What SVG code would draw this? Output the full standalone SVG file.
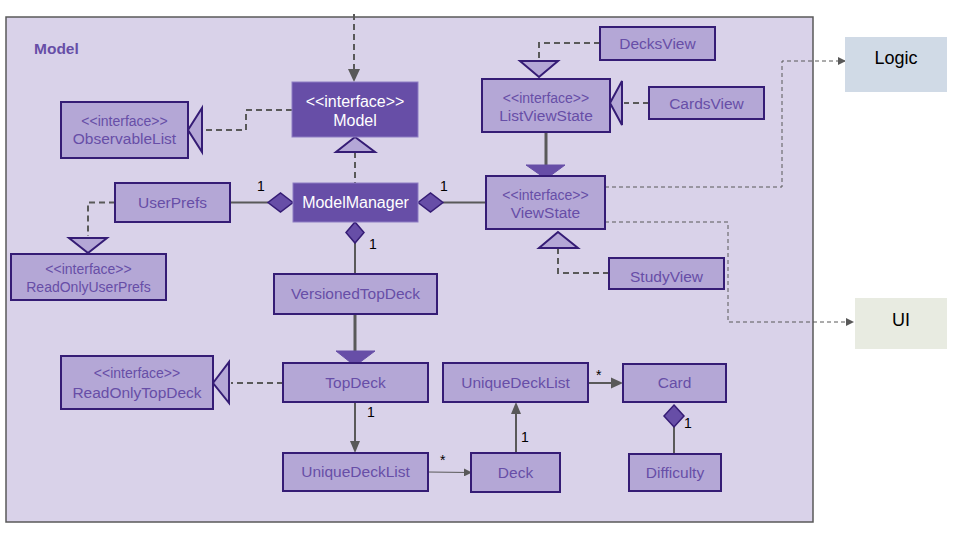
<svg xmlns="http://www.w3.org/2000/svg" width="960" height="540" viewBox="0 0 960 540">
<defs>
<style>
.frame{fill:#d9d2e9;stroke:#595959;stroke-width:1.5}
.cls{fill:#b4a7d6;stroke:#351c75;stroke-width:2}
.dark{fill:#674ea7;stroke:#8e7cc3;stroke-width:1}
.t{font-family:"Liberation Sans",Arial,sans-serif;fill:#674ea7;text-anchor:middle}
.n{font-size:15.5px}
.s{font-size:14px}
.w{font-family:"Liberation Sans",Arial,sans-serif;fill:#ffffff;text-anchor:middle;font-size:16px}
.m{font-family:"Liberation Sans",Arial,sans-serif;fill:#000000;font-size:14px}
.dash{fill:none;stroke:#595959;stroke-width:2;stroke-dasharray:6,4}
.solid{fill:none;stroke:#595959;stroke-width:2}
.thick{fill:none;stroke:#595959;stroke-width:3}
.thin{fill:none;stroke:#595959;stroke-width:1}
.thindash{fill:none;stroke:#595959;stroke-width:1;stroke-dasharray:4,3}
.tri{fill:#b4a7d6;stroke:#351c75;stroke-width:2;stroke-linejoin:miter}
.ftri{fill:#674ea7;stroke:#674ea7;stroke-width:1}
.dia{fill:#674ea7;stroke:#351c75;stroke-width:1.5}
.ah{fill:#595959}
</style>
<marker id="ahS" markerWidth="8" markerHeight="8" refX="7" refY="4" orient="auto" markerUnits="userSpaceOnUse">
<path d="M0,0 L8,4 L0,8 Z" fill="#595959"/>
</marker>
</defs>

<rect class="frame" x="6" y="17" width="807" height="505"/>
<text x="34" y="54" font-family="Liberation Sans, Arial, sans-serif" font-weight="bold" font-size="15.5" fill="#674ea7">Model</text>

<g id="connectors">
<!-- incoming to Model -->
<path class="dash" d="M354,14 V70"/>
<path class="ah" d="M348,69 L360,69 L354,82 Z"/>
<!-- Model realizes ObservableList -->
<path class="dash" d="M292,110 H246 V130 H204"/>
<path class="tri" d="M188,130 L202,108 L202,152 Z"/>
<!-- ModelManager realizes Model -->
<path class="dash" d="M355,152 V183"/>
<path class="tri" d="M355,137 L336,152 L375,152 Z"/>
<!-- UserPrefs - ModelManager -->
<path class="solid" d="M230,202.5 H268"/>
<path class="dia" d="M293,202.5 L280.5,193 L268,202.5 L280.5,212 Z"/>
<text class="m" x="257" y="191">1</text>
<!-- ModelManager - ViewState -->
<path class="solid" d="M443,202.5 H486"/>
<path class="dia" d="M418,202.5 L430.5,193 L443,202.5 L430.5,212 Z"/>
<text class="m" x="440" y="191">1</text>
<!-- ModelManager - VersionedTopDeck -->
<path class="solid" d="M355,243 V274"/>
<path class="dia" d="M355,222 L364,232.5 L355,243 L346,232.5 Z"/>
<text class="m" x="369" y="249">1</text>
<!-- UserPrefs realizes ReadOnlyUserPrefs -->
<path class="dash" d="M115,202.5 H88 V236"/>
<path class="tri" d="M69,238 L107,238 L88,253 Z"/>
<!-- VersionedTopDeck extends TopDeck -->
<path class="thick" d="M355,314 V352"/>
<path class="ftri" d="M336,351 L375,351 L355,366 Z"/>
<!-- TopDeck realizes ReadOnlyTopDeck -->
<path class="dash" d="M283,383 H231"/>
<path class="tri" d="M213,383 L229,362 L229,403 Z"/>
<!-- TopDeck -> UniqueDeckList -->
<path class="solid" d="M355,402 V442"/>
<path class="ah" d="M350,441 L360,441 L355,453 Z"/>
<text class="m" x="367" y="417">1</text>
<!-- UniqueDeckList -> Deck -->
<path class="thin" d="M428,472 L471,472.5" marker-end="url(#ahS)"/>
<text class="m" x="440" y="465">*</text>
<!-- Deck -> UniqueDeckList (top) -->
<path class="solid" d="M516,453 V413"/>
<path class="ah" d="M511,414 L521,414 L516,402 Z"/>
<text class="m" x="521" y="442">1</text>
<!-- UniqueDeckList -> Card -->
<path class="solid" d="M588,383 H612"/>
<path class="ah" d="M611,377.5 L623,383 L611,388.5 Z"/>
<text class="m" x="596" y="380">*</text>
<!-- Card - Difficulty -->
<path class="solid" d="M674,427 V454"/>
<path class="dia" d="M674,405 L684,416 L674,427 L664,416 Z"/>
<text class="m" x="684" y="428">1</text>
<!-- DecksView realizes ListViewState -->
<path class="dash" d="M600,43 H539 V61"/>
<path class="tri" d="M520,61 L558,61 L539,77 Z"/>
<!-- CardsView realizes ListViewState -->
<path class="dash" d="M649,103 H624"/>
<path class="tri" d="M610,103 L622,81 L622,125 Z"/>
<!-- ListViewState extends ViewState -->
<path class="thick" d="M546,132 V166"/>
<path class="ftri" d="M526,165 L565,165 L546,179 Z"/>
<!-- StudyView realizes ViewState -->
<path class="dash" d="M609,273 H558 V248"/>
<path class="tri" d="M558,232 L539,248 L578,248 Z"/>
<!-- ViewState -> Logic -->
<path class="thindash" d="M605,187 H782 V61 H845" marker-end="url(#ahS)"/>
<!-- ViewState -> UI -->
<path class="thindash" d="M605,222 H728 V322 H853" marker-end="url(#ahS)"/>
</g>

<g id="Model">
<rect class="dark" x="292" y="82" width="126" height="55"/>
<text class="w" x="355" y="107">&lt;&lt;interface&gt;&gt;</text>
<text class="w" x="355" y="126">Model</text>
</g>
<g id="ObservableList">
<rect class="cls" x="61" y="102" width="127" height="56"/>
<text class="t s" x="124.5" y="126">&lt;&lt;interface&gt;&gt;</text>
<text class="t n" x="124.5" y="144">ObservableList</text>
</g>
<g id="ModelManager">
<rect class="dark" x="293" y="183" width="125" height="39"/>
<text class="w" x="355.5" y="208">ModelManager</text>
</g>
<g id="UserPrefs">
<rect class="cls" x="115" y="183" width="115" height="39"/>
<text class="t n" x="172.5" y="208">UserPrefs</text>
</g>
<g id="ReadOnlyUserPrefs">
<rect class="cls" x="11" y="254" width="155" height="46"/>
<text class="t s" x="88.5" y="274">&lt;&lt;interface&gt;&gt;</text>
<text class="t s" x="88.5" y="292">ReadOnlyUserPrefs</text>
</g>
<g id="VersionedTopDeck">
<rect class="cls" x="274" y="274" width="163" height="40"/>
<text class="t n" x="355.5" y="299">VersionedTopDeck</text>
</g>
<g id="TopDeck">
<rect class="cls" x="283" y="363" width="145" height="39"/>
<text class="t n" x="355.5" y="388">TopDeck</text>
</g>
<g id="ReadOnlyTopDeck">
<rect class="cls" x="61" y="356" width="152" height="53"/>
<text class="t s" x="137" y="378">&lt;&lt;interface&gt;&gt;</text>
<text class="t n" x="137" y="398">ReadOnlyTopDeck</text>
</g>
<g id="UniqueDeckList1">
<rect class="cls" x="283" y="453" width="145" height="38"/>
<text class="t n" x="355.5" y="477">UniqueDeckList</text>
</g>
<g id="Deck">
<rect class="cls" x="471" y="453" width="89" height="39"/>
<text class="t n" x="515.5" y="478">Deck</text>
</g>
<g id="UniqueDeckList2">
<rect class="cls" x="443" y="363" width="145" height="39"/>
<text class="t n" x="515.5" y="388">UniqueDeckList</text>
</g>
<g id="Card">
<rect class="cls" x="623" y="364" width="103" height="38"/>
<text class="t n" x="674.5" y="388">Card</text>
</g>
<g id="Difficulty">
<rect class="cls" x="629" y="454" width="92" height="37"/>
<text class="t n" x="675" y="478">Difficulty</text>
</g>
<g id="DecksView">
<rect class="cls" x="600" y="27" width="115" height="33"/>
<text class="t n" x="657.5" y="49">DecksView</text>
</g>
<g id="ListViewState">
<rect class="cls" x="482" y="79" width="128" height="53"/>
<text class="t s" x="546" y="103">&lt;&lt;interface&gt;&gt;</text>
<text class="t n" x="546" y="121">ListViewState</text>
</g>
<g id="CardsView">
<rect class="cls" x="649" y="87" width="115" height="32"/>
<text class="t n" x="706.5" y="109">CardsView</text>
</g>
<g id="ViewState">
<rect class="cls" x="486" y="176" width="119" height="53"/>
<text class="t s" x="545.5" y="200">&lt;&lt;interface&gt;&gt;</text>
<text class="t n" x="545.5" y="218">ViewState</text>
</g>
<g id="StudyView">
<rect class="cls" x="609" y="258" width="115" height="31"/>
<text class="t n" x="666.5" y="282">StudyView</text>
</g>
<g id="Logic">
<rect x="845" y="37" width="102" height="55" fill="#d0dae6"/>
<text x="896" y="64" font-family="Liberation Sans, Arial, sans-serif" font-size="18" fill="#000" text-anchor="middle">Logic</text>
</g>
<g id="UI">
<rect x="855" y="298" width="92" height="51" fill="#e8ebe1"/>
<text x="901" y="326" font-family="Liberation Sans, Arial, sans-serif" font-size="18" fill="#000" text-anchor="middle">UI</text>
</g>
</svg>
